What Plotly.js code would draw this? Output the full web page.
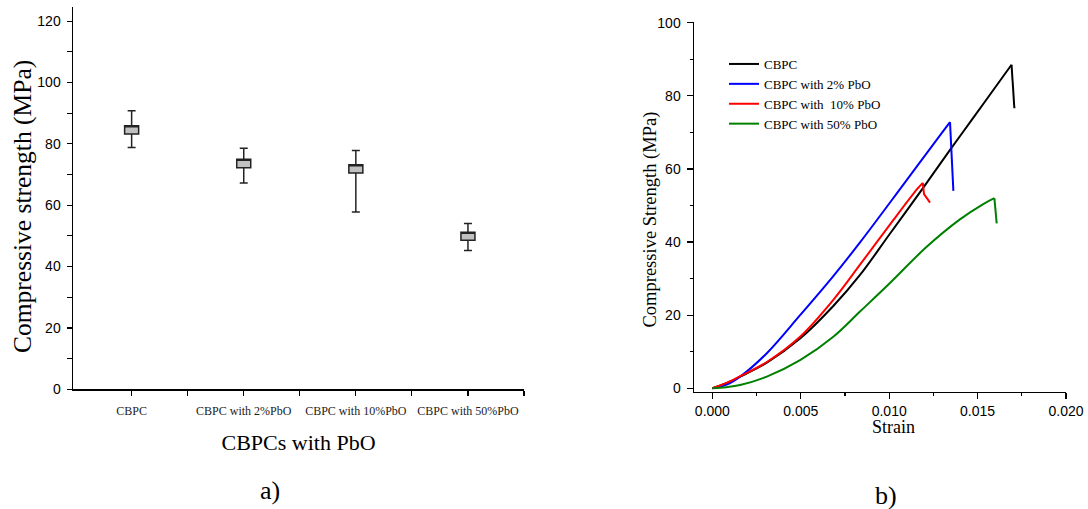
<!DOCTYPE html>
<html>
<head>
<meta charset="utf-8">
<script src="https://cdn.plot.ly/plotly-3.0.1.min.js"></script>
<style>html,body{margin:0;padding:0;background:#fff}#chart{width:1088px;height:509px}</style>
</head>
<body>
<div id="chart"></div>
<script>
// ---- panel a) : compressive strength box summary ----
const groups = ['CBPC', 'CBPC with 2%PbO', 'CBPC with 10%PbO', 'CBPC with 50%PbO'];
const boxQ1 = [83.2, 72.2, 70.5, 48.6];
const boxQ3 = [85.9, 75.0, 73.2, 51.2];
const boxLow = [78.8, 67.2, 57.8, 45.2];
const boxHigh = [90.8, 78.6, 77.8, 54.0];

// ---- panel b) : stress-strain curves ----
const seriesNames = ['CBPC', 'CBPC with 2% PbO', 'CBPC with\u00a0 10% PbO', 'CBPC with 50% PbO'];
const strainCBPC = [0, 0.0008, 0.00157, 0.00308, 0.00496, 0.00684, 0.00835, 0.0100, 0.01193, 0.01344, 0.01467, 0.0165, 0.01692, 0.01708];
const stressCBPC = [0, 1.4, 3.2, 7.0, 13.6, 22.5, 31.0, 42.0, 54.9, 65.2, 73.4, 85.7, 88.5, 76.6];
const strain2 = [0, 0.0008, 0.00157, 0.00308, 0.00496, 0.00684, 0.00835, 0.0108, 0.0130, 0.01344, 0.01363];
const stress2 = [0, 1.0, 3.2, 9.6, 20.0, 30.7, 39.9, 55.7, 70.0, 72.8, 54.0];
const strain10 = [0, 0.0008, 0.00157, 0.00308, 0.00496, 0.00684, 0.00835, 0.01023, 0.0116, 0.0119, 0.01197, 0.01231];
const stress10 = [0, 1.5, 3.3, 7.2, 14.1, 24.2, 33.8, 46.0, 54.6, 56.2, 53.1, 50.8];
const strain50 = [0, 0.0008, 0.00157, 0.00308, 0.00496, 0.00684, 0.00835, 0.0100, 0.01212, 0.0140, 0.01532, 0.01595, 0.01608];
const stress50 = [0, 0.3, 0.9, 3.2, 7.7, 14.1, 21.0, 28.6, 38.7, 46.2, 50.4, 52.0, 45.1];
const seriesColors = ['#000000', '#0000ff', '#ff0000', '#008000'];

const serif = 'Liberation Serif, Times New Roman, serif';
const sans = 'Liberation Sans, Arial, sans-serif';
const groupPos = groups.map((g, i) => i + 1);

const traces = [];
traces.push({
  type: 'box', xaxis: 'x', yaxis: 'y', showlegend: false,
  x: groupPos, q1: boxQ1, median: boxQ3, q3: boxQ3,
  lowerfence: boxLow, upperfence: boxHigh,
  width: 0.125, whiskerwidth: 0.57,
  fillcolor: '#c0c0c0', line: {color: '#222222', width: 1.5},
  boxpoints: false, hoverinfo: 'y'
});
const xs = [strainCBPC, strain2, strain10, strain50];
const ys = [stressCBPC, stress2, stress10, stress50];
for (let i = 0; i < 4; i++) {
  const peak = ys[i].indexOf(Math.max(...ys[i]));
  // rising (smooth) part
  traces.push({
    type: 'scatter', mode: 'lines', xaxis: 'x2', yaxis: 'y2',
    x: xs[i].slice(0, peak + 1), y: ys[i].slice(0, peak + 1),
    name: seriesNames[i], legendgroup: 'g' + i,
    line: {color: seriesColors[i], width: 2, shape: 'spline', smoothing: 1}
  });
  // failure drop
  traces.push({
    type: 'scatter', mode: 'lines', xaxis: 'x2', yaxis: 'y2',
    x: xs[i].slice(peak), y: ys[i].slice(peak),
    name: seriesNames[i], legendgroup: 'g' + i, showlegend: false,
    line: {color: seriesColors[i], width: 2}
  });
}

const layout = {
  width: 1088, height: 509,
  margin: {l: 0, r: 0, t: 0, b: 0},
  paper_bgcolor: '#ffffff', plot_bgcolor: '#ffffff',
  showlegend: true,
  legend: {
    x: 724 / 1088, y: (509 - 49) / 509, xanchor: 'left', yanchor: 'top',
    font: {family: serif, size: 13, color: '#000'},
    bgcolor: 'rgba(0,0,0,0)', borderwidth: 0, tracegroupgap: 0, traceorder: 'normal'
  },
  xaxis: {
    domain: [73 / 1088, 524 / 1088], range: [0.477, 4.5], anchor: 'y',
    tickmode: 'array', tickvals: groupPos, ticktext: groups,
    ticks: 'outside', ticklen: 5, tickwidth: 1.2, tickcolor: '#000',
    ticklabelstandoff: 5,
    minor: {tickmode: 'array', tickvals: [1.5, 2.5, 3.5, 4.5], ticks: 'outside', ticklen: 5, tickwidth: 1.2, tickcolor: '#000', showgrid: false},
    showline: true, linecolor: '#000', linewidth: 1.5,
    showgrid: false, zeroline: false,
    tickfont: {family: serif, size: 12, color: '#222'},
    title: {text: 'CBPCs with PbO', font: {family: serif, size: 22, color: '#000'}, standoff: 17}
  },
  yaxis: {
    domain: [(509 - 389.3) / 509, (509 - 6.7) / 509], range: [0, 124.7], anchor: 'x',
    tick0: 0, dtick: 20,
    ticks: 'outside', ticklen: 5, tickwidth: 1.2, tickcolor: '#000',
    ticklabelstandoff: 3,
    minor: {dtick: 10, ticks: 'outside', ticklen: 5, tickwidth: 1.2, tickcolor: '#000', showgrid: false},
    showline: true, linecolor: '#000', linewidth: 1.5,
    showgrid: false, zeroline: false,
    tickfont: {family: sans, size: 14, color: '#000'}
  },
  xaxis2: {
    domain: [694 / 1088, 1066 / 1088], range: [-0.00104, 0.020], anchor: 'y2',
    tick0: 0, dtick: 0.005, tickformat: '.3f',
    ticks: 'outside', ticklen: 6, tickwidth: 1.2, tickcolor: '#000',
    minor: {dtick: 0.0025, ticks: 'outside', ticklen: 3, tickwidth: 1.2, tickcolor: '#000', showgrid: false},
    showline: true, linecolor: '#000', linewidth: 1.5,
    showgrid: false, zeroline: false,
    tickfont: {family: sans, size: 14, color: '#000'}
  },
  yaxis2: {
    domain: [(509 - 391.7) / 509, (509 - 21.7) / 509], range: [-0.93, 100.27], anchor: 'x2',
    tick0: 0, dtick: 20,
    ticks: 'outside', ticklen: 6, tickwidth: 1.2, tickcolor: '#000',
    ticklabelstandoff: 3,
    minor: {dtick: 10, ticks: 'outside', ticklen: 3, tickwidth: 1.2, tickcolor: '#000', showgrid: false},
    showline: true, linecolor: '#000', linewidth: 1.5,
    showgrid: false, zeroline: false,
    tickfont: {family: sans, size: 14, color: '#000'}
  },
  annotations: [
    {text: 'Compressive strength (MPa)', xref: 'paper', yref: 'paper', x: 22 / 1088, y: (509 - 207) / 509, xanchor: 'center', yanchor: 'middle', textangle: -90, showarrow: false, font: {family: serif, size: 25.5, color: '#000'}},
    {text: 'Compressive Strength (MPa)', xref: 'paper', yref: 'paper', x: 649.5 / 1088, y: (509 - 220) / 509, xanchor: 'center', yanchor: 'middle', textangle: -90, showarrow: false, font: {family: serif, size: 18.5, color: '#000'}},
    {text: 'Strain', xref: 'paper', yref: 'paper', x: 893 / 1088, y: (509 - 427) / 509, xanchor: 'center', yanchor: 'middle', showarrow: false, font: {family: serif, size: 18, color: '#000'}},
    {text: 'a)', xref: 'paper', yref: 'paper', x: 270 / 1088, y: (509 - 490) / 509, xanchor: 'center', yanchor: 'middle', showarrow: false, font: {family: serif, size: 26, color: '#000'}},
    {text: 'b)', xref: 'paper', yref: 'paper', x: 885.5 / 1088, y: (509 - 495) / 509, xanchor: 'center', yanchor: 'middle', showarrow: false, font: {family: serif, size: 26, color: '#000'}}
  ]
};

Plotly.newPlot('chart', traces, layout, {staticPlot: true, displayModeBar: false});
</script>
</body>
</html>
